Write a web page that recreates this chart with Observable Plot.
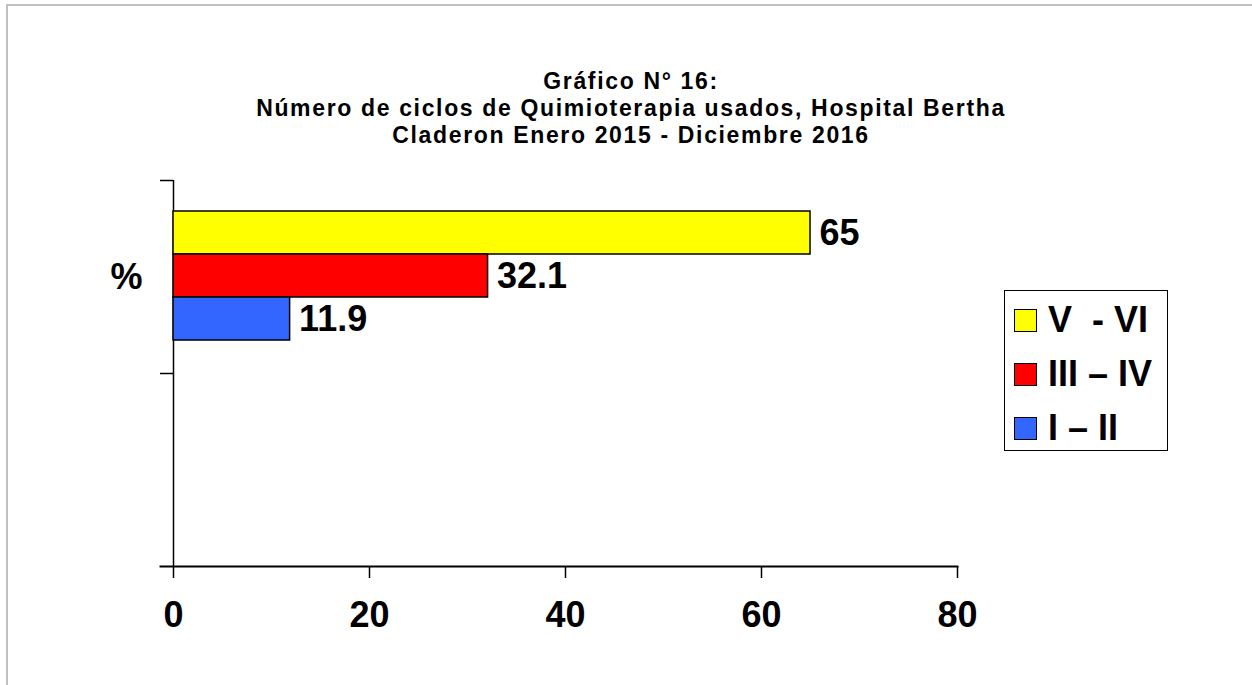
<!DOCTYPE html>
<html>
<head>
<meta charset="utf-8">
<script src="https://cdn.jsdelivr.net/npm/d3@7"></script>
<script src="https://cdn.jsdelivr.net/npm/@observablehq/plot@0.6"></script>
<style>
  html, body { margin: 0; padding: 0; background: #fff; overflow: hidden; }
  #wrap { position: relative; width: 1252px; height: 685px; overflow: hidden; font-family: "Liberation Sans", Arial, sans-serif; }
  #border { position: absolute; left: 6px; top: 4px; width: 1400px; height: 900px; border-left: 2px solid #c0c0c0; border-top: 2px solid #c0c0c0; }
  #title { position: absolute; left: 3px; top: 68px; width: 1256px; text-align: center; font-weight: bold; font-size: 23px; line-height: 27px; letter-spacing: 1.65px; color: #000; }
  #chart { position: absolute; left: 0; top: 0; }
  #legend { position: absolute; left: 1004px; top: 290px; width: 162px; height: 159px; border: 1.5px solid #000; background: #fff; }
  .item { position: absolute; left: 9px; height: 36px; display: flex; align-items: center; white-space: pre; font-weight: bold; font-size: 36px; color: #000; }
  .sw { width: 21px; height: 21px; border: 1.5px solid #000; margin-right: 11px; }
</style>
</head>
<body>
<div id="wrap">
  <div id="border"></div>
  <div id="chart"></div>
  <div id="title"></div>
  <div id="legend"></div>
</div>
<script>
const titleLines = ["Gráfico N° 16:", "Número de ciclos de Quimioterapia usados, Hospital Bertha", "Claderon Enero 2015 - Diciembre 2016"];
const categories = ["%", " "];
const series = ["V  - VI", "III – IV", "I – II"];
const values = [65, 32.1, 11.9];
const colors = ["#ffff00", "#ff0000", "#3366ff"];
const xTicks = [0, 20, 40, 60, 80];
const xDomain = [0, 80];

const rows = series.map((s, i) => ({cat: categories[0], series: s, value: values[i]}));
const catRows = categories.map(c => ({cat: c}));

const W = 1252, H = 685, mT = 180, mB = 119, mL = 173, mR = 295;
const halfBand = (H - mT - mB) / categories.length / 2;
const font = "'Liberation Sans', Arial, sans-serif";

const chart = Plot.plot({
  width: W, height: H,
  marginTop: mT, marginBottom: mB, marginLeft: mL, marginRight: mR,
  style: {fontFamily: font, color: "#000", background: "transparent"},
  x: {domain: xDomain, axis: null},
  y: {domain: series, padding: 0, insetTop: 31, insetBottom: 33, axis: null},
  fy: {domain: categories, padding: 0, axis: null, label: null},
  color: {domain: series, range: colors},
  marks: [
    Plot.ruleX(catRows, {x: 0, fy: "cat", stroke: "#000", strokeWidth: 1.5}),
    Plot.barX(rows, {x: "value", y: "series", fy: "cat", fill: "series", stroke: "#000", strokeWidth: 1.5}),
    Plot.text(rows, {x: "value", y: "series", fy: "cat", text: d => String(d.value), textAnchor: "start", dx: 9, fontSize: 36, fontWeight: "bold", fill: "#000"}),
    Plot.axisFy({anchor: "left", tickSize: 13, text: null, label: null, dy: -halfBand, stroke: "#000", strokeWidth: 1.5}),
    Plot.axisFy({anchor: "left", tickSize: 0, tickPadding: 31, label: null, fontSize: 36, fontWeight: "bold", fill: "#000"}),
    Plot.frame({anchor: "bottom", facetAnchor: "bottom", insetLeft: -13, stroke: "#000", strokeWidth: 2}),
    Plot.axisX({ticks: xTicks, tickSize: 12, tickPadding: 23, label: null, fontSize: 36, fontWeight: "bold", stroke: "#000", strokeWidth: 1.5, fill: "#000", tickFormat: d => String(d)})
  ]
});
document.getElementById("chart").appendChild(chart);

const t = document.getElementById("title");
titleLines.forEach(l => { const d = document.createElement("div"); d.textContent = l; t.appendChild(d); });

const lg = document.getElementById("legend");
const itemTops = [11, 65, 119];
series.forEach((s, i) => {
  const it = document.createElement("div");
  it.className = "item";
  it.style.top = itemTops[i] + "px";
  const sw = document.createElement("div");
  sw.className = "sw";
  sw.style.background = colors[i];
  it.appendChild(sw);
  const tx = document.createElement("span");
  tx.textContent = s;
  it.appendChild(tx);
  lg.appendChild(it);
});
</script>
</body>
</html>
